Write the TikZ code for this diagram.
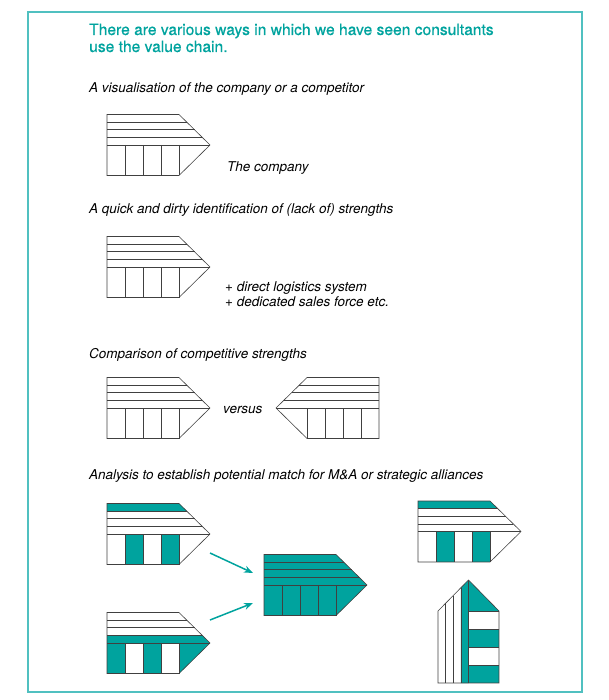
\documentclass[tikz,border=0pt]{standalone}
\usepackage{fontspec}
\setmainfont{TeX Gyre Heros}
\newfontfamily\titlefont[FakeBold=0.6]{TeX Gyre Heros}
\usetikzlibrary{arrows.meta}
\definecolor{vcteal}{RGB}{0,163,158}
\definecolor{frameteal}{RGB}{80,192,192}

\tikzset{
  chainline/.style={draw=black!75, line width=0.6pt},
  heading/.style={text=vcteal, font=\titlefont\fontsize{15.6}{18}\selectfont, inner sep=0pt, anchor=base west},
  caption/.style={font=\fontsize{13.5}{16}\selectfont\itshape, inner sep=0pt, anchor=base west},
  arrowline/.style={vcteal, line width=1.5pt, -{Stealth[length=9pt,width=7pt]}}
}

% outline of one value chain, origin at its top left corner
\newcommand{\vchain}{%
  \foreach \yy in {7.625,15.25,22.875,30.5}
    \draw[chainline] (0,\yy) -- ({72+\yy*31/30.5},\yy);
  \foreach \xx in {18,36,54,72}
    \draw[chainline] (\xx,30.5) -- (\xx,61);
  \draw[chainline] (0,0) -- (72,0) -- (103,30.5) -- (72,61) -- (0,61) -- cycle;
}
% support band 1 (top) .. 4 (lowest)
\newcommand{\fillband}[1]{%
  \fill[vcteal] (0,{(#1-1)*7.625}) -- ({72+(#1-1)*7.625*31/30.5},{(#1-1)*7.625})
    -- ({72+#1*7.625*31/30.5},{#1*7.625}) -- (0,{#1*7.625}) -- cycle;
}
% primary cell 1 .. 4 and the margin
\newcommand{\fillcell}[1]{\fill[vcteal] ({(#1-1)*18},30.5) rectangle ({#1*18},61);}
\newcommand{\filltip}{\fill[vcteal] (72,30.5) -- (103,30.5) -- (72,61) -- cycle;}
\newcommand{\fillall}{\fill[vcteal] (0,0) -- (72,0) -- (103,30.5) -- (72,61) -- (0,61) -- cycle;}

\begin{document}
\begin{tikzpicture}[x=1pt, y=-1pt]
  \useasboundingbox (0,0) rectangle (608,700);
  \draw[frameteal, line width=1.2pt] (28,12) rectangle (582,692);

  \node[heading] (title1) at (89,35) {There are various ways in which we have seen consultants};
  \node[heading] (title2) at (89,52) {use the value chain.};

  % visualisation
  \node[caption] (visual) at (89,93) {A visualisation of the company or a competitor};
  \begin{scope}[shift={(107,114.5)}]
    \vchain
  \end{scope}
  \node[caption] (company) at (227,172) {The company};

  % quick and dirty
  \node[caption] (quick) at (89,214) {A quick and dirty identification of (lack of) strengths};
  \begin{scope}[shift={(107,236.5)}]
    \vchain
  \end{scope}
  \node[caption] (plus1) at (225,291) {+ direct logistics system};
  \node[caption] (plus2) at (225,306) {+ dedicated sales force etc.};

  % comparison
  \node[caption] (compare) at (89,358) {Comparison of competitive strengths};
  \begin{scope}[shift={(107,377.5)}]
    \vchain
  \end{scope}
  \node[caption] (versus) at (223,413) {versus};
  \begin{scope}[shift={(379,377.5)}, xscale=-1]
    \vchain
  \end{scope}

  % analysis
  \node[caption] (analysis) at (89,479) {Analysis to establish potential match for M\&A or strategic alliances};
  \begin{scope}[shift={(107,503.5)}]
    \fillband{1}
    \fillcell{2}
    \fillcell{4}
    \vchain
  \end{scope}
  \begin{scope}[shift={(107,612.5)}]
    \fillband{4}
    \fillcell{1}
    \fillcell{3}
    \filltip
    \vchain
  \end{scope}
  \begin{scope}[shift={(264,554.5)}]
    \fillall
    \vchain
  \end{scope}
  \begin{scope}[shift={(418,501)}]
    \fillband{1}
    \fillcell{2}
    \fillcell{4}
    \vchain
  \end{scope}
  \begin{scope}[shift={(438,683)}, rotate=90]
    \fillband{4}
    \fillcell{1}
    \fillcell{3}
    \filltip
    \vchain
  \end{scope}

  \coordinate (fromA) at (210,553);
  \coordinate (toA) at (253,573);
  \coordinate (fromB) at (210,620);
  \coordinate (toB) at (253,603);
  \draw[arrowline] (fromA) -- (toA);
  \draw[arrowline] (fromB) -- (toB);
\end{tikzpicture}
\end{document}
